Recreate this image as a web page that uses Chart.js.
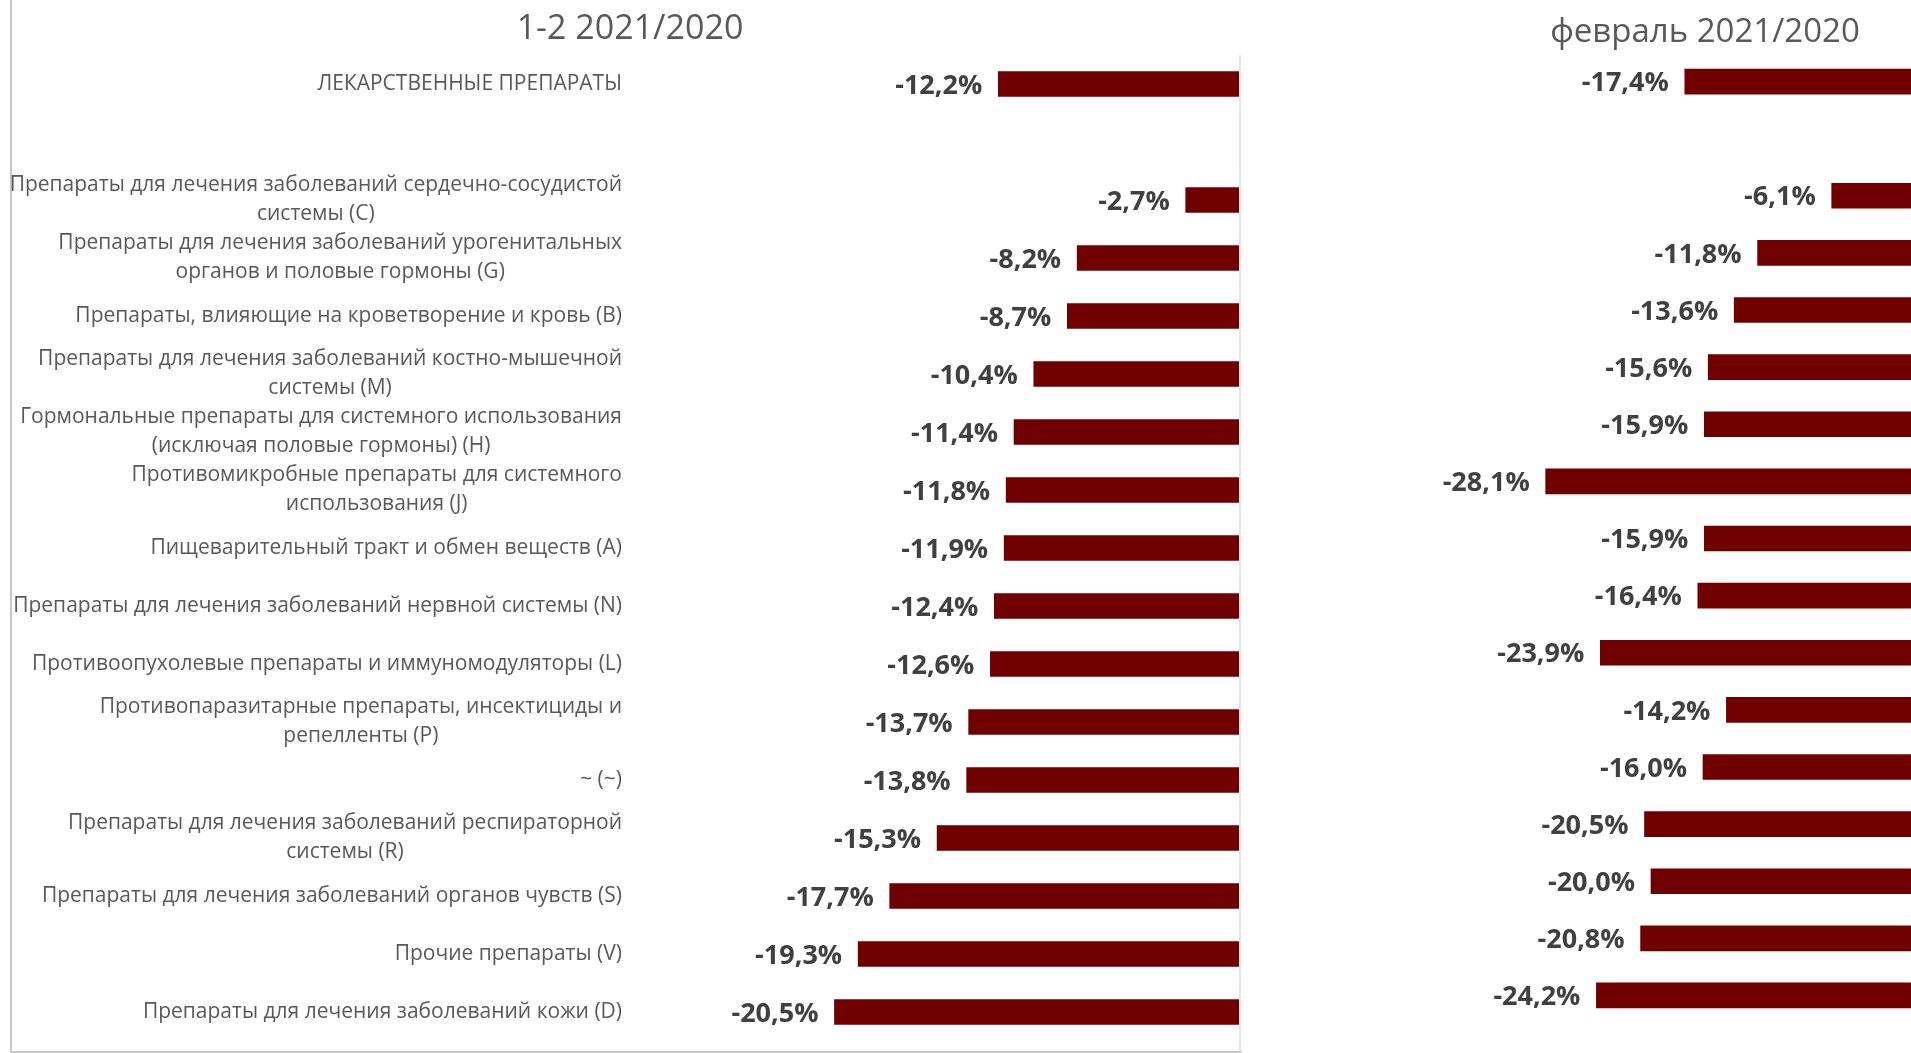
<!DOCTYPE html>
<html lang="ru">
  <head>
    <meta charset="utf-8" />
    <title>Лекарственные препараты 2021/2020</title>
    <style>
      * {
        margin: 0;
        padding: 0;
      }
      body {
        width: 1911px;
        height: 1053px;
        background: white;
        position: relative;
        overflow: hidden;
      }
      #leftBox {
        position: absolute;
        left: 0;
        top: 0;
      }
      #rightBox {
        position: absolute;
        left: 1242px;
        top: 0;
      }
    </style>
  </head>
  <body>
    <div id="leftBox"><canvas id="leftChart" width="1242" height="1053"></canvas></div>
    <div id="rightBox"><canvas id="rightChart" width="669" height="1053"></canvas></div>

    <script src="https://cdn.jsdelivr.net/npm/chart.js@4.4.1/dist/chart.umd.min.js"></script>

    <script>
      // data block
      const categories = [
        ["ЛЕКАРСТВЕННЫЕ ПРЕПАРАТЫ"],
        [""],
        ["Препараты для лечения заболеваний сердечно-сосудистой", "системы (C)"],
        ["Препараты для лечения заболеваний урогенитальных", "органов и половые гормоны (G)"],
        ["Препараты, влияющие на кроветворение и кровь (B)"],
        ["Препараты для лечения заболеваний костно-мышечной", "системы (M)"],
        ["Гормональные препараты для системного использования", "(исключая половые гормоны) (H)"],
        ["Противомикробные препараты для системного", "использования (J)"],
        ["Пищеварительный тракт и обмен веществ (A)"],
        ["Препараты для лечения заболеваний нервной системы (N)"],
        ["Противоопухолевые препараты и иммуномодуляторы (L)"],
        ["Противопаразитарные препараты, инсектициды и", "репелленты (P)"],
        ["~ (~)"],
        ["Препараты для лечения заболеваний респираторной", "системы (R)"],
        ["Препараты для лечения заболеваний органов чувств (S)"],
        ["Прочие препараты (V)"],
        ["Препараты для лечения заболеваний кожи (D)"],
      ];
      const janFebChange = [
        -12.2, null, -2.7, -8.2, -8.7, -10.4, -11.4, -11.8, -11.9, -12.4,
        -12.6, -13.7, -13.8, -15.3, -17.7, -19.3, -20.5,
      ];
      const febChange = [
        -17.4, null, -6.1, -11.8, -13.6, -15.6, -15.9, -28.1, -15.9, -16.4,
        -23.9, -14.2, -16.0, -20.5, -20.0, -20.8, -24.2,
      ];
      const leftTitle = "1-2 2021/2020";
      const rightTitle = "февраль 2021/2020";

      const barColor = "#700000";
      const pct = (v) => v.toFixed(1).replace(".", ",") + "%";

      // value labels left of each bar
      const valueLabels = {
        id: "valueLabels",
        afterDatasetsDraw(chart) {
          const { ctx, data } = chart;
          ctx.save();
          ctx.font = "bold 27px 'Open Sans'";
          ctx.fillStyle = "#404040";
          ctx.textAlign = "right";
          ctx.textBaseline = "middle";
          chart.getDatasetMeta(0).data.forEach((bar, i) => {
            const v = data.datasets[0].data[i];
            if (v === null) return;
            ctx.fillText(pct(v), bar.x - 16, bar.y + 2);
          });
          ctx.restore();
        },
      };

      // title text above each panel
      const panelTitle = {
        id: "panelTitle",
        afterDraw(chart, args, opts) {
          const { ctx } = chart;
          ctx.save();
          ctx.font = opts.size + "px 'Open Sans'";
          ctx.fillStyle = "#595959";
          ctx.textAlign = "center";
          ctx.textBaseline = "middle";
          ctx.fillText(opts.text, opts.x, opts.y);
          ctx.restore();
        },
      };

      // category labels: block right aligned, lines centred in the block
      const categoryLabels = {
        id: "categoryLabels",
        afterDraw(chart, args, opts) {
          const {
            ctx,
            scales: { y },
          } = chart;
          ctx.save();
          ctx.font = "21px 'Open Sans'";
          ctx.fillStyle = "#595959";
          ctx.textAlign = "center";
          ctx.textBaseline = "middle";
          const lineH = 29;
          chart.data.labels.forEach((lines, i) => {
            const w = Math.max(...lines.map((l) => ctx.measureText(l).width));
            const cx = opts.right - w / 2;
            const yc = y.getPixelForValue(i);
            const y0 = yc - ((lines.length - 1) * lineH) / 2;
            lines.forEach((l, k) => ctx.fillText(l, cx, y0 + k * lineH));
          });
          ctx.restore();
        },
      };

      // chart frame and zero line
      const frame = {
        id: "frame",
        beforeDatasetsDraw(chart) {
          const {
            ctx,
            width,
            height,
            chartArea: { top },
            scales: { x },
          } = chart;
          ctx.save();
          ctx.lineWidth = 2;
          ctx.strokeStyle = "#c8c8c8";
          ctx.beginPath();
          ctx.moveTo(11, 0);
          ctx.lineTo(11, height - 1);
          ctx.lineTo(width, height - 1);
          ctx.stroke();
          ctx.lineWidth = 1.5;
          ctx.strokeStyle = "#dcdcdc";
          const x0 = x.getPixelForValue(0) + 1;
          ctx.beginPath();
          ctx.moveTo(x0, top);
          ctx.lineTo(x0, height);
          ctx.stroke();
          ctx.restore();
        },
      };

      const baseOptions = (min, padding) => ({
        indexAxis: "y",
        responsive: false,
        animation: false,
        layout: { padding: padding },
        plugins: {
          legend: { display: false },
          tooltip: { enabled: false },
        },
        scales: {
          x: { display: false, min: min, max: 0 },
          y: { display: false },
        },
      });

      // left chart
      const leftOptions = baseOptions(-30, { left: 647, right: 3, top: 55, bottom: 12 });
      leftOptions.plugins.panelTitle = { text: leftTitle, x: 630, y: 29, size: 34 };
      leftOptions.plugins.categoryLabels = { right: 622 };
      new Chart(document.getElementById("leftChart"), {
        type: "bar",
        data: {
          labels: categories,
          datasets: [
            {
              data: janFebChange,
              backgroundColor: barColor,
              barThickness: 25,
            },
          ],
        },
        options: leftOptions,
        plugins: [frame, valueLabels, categoryLabels, panelTitle],
      });

      // right chart
      const rightOptions = baseOptions(-50, { left: 19, right: 0, top: 53, bottom: 29 });
      rightOptions.plugins.panelTitle = { text: rightTitle, x: 463, y: 33, size: 33 };
      new Chart(document.getElementById("rightChart"), {
        type: "bar",
        data: {
          labels: categories,
          datasets: [
            {
              data: febChange,
              backgroundColor: barColor,
              barThickness: 25,
            },
          ],
        },
        options: rightOptions,
        plugins: [valueLabels, panelTitle],
      });
    </script>
  </body>
</html>
